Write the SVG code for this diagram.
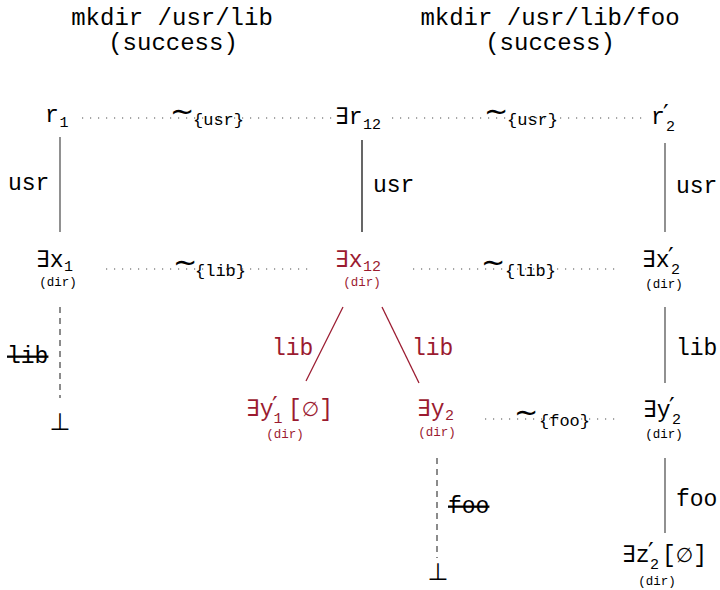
<svg xmlns="http://www.w3.org/2000/svg" width="720" height="590" viewBox="0 0 720 590">
<style>
text{font-family:"Liberation Mono","DejaVu Sans Mono",monospace;fill:#000}
.t{font-size:24px;text-anchor:middle}
.n{font-size:23px}
.sb{font-size:15px}
.pr{font-size:25px;font-family:"DejaVu Sans",sans-serif}
.d{font-size:12.5px;text-anchor:middle}
.lb{font-size:23px}
.sim{font-size:29px;font-family:"DejaVu Sans",sans-serif}
.set{font-size:17px}
.es{font-family:"DejaVu Sans",sans-serif;font-size:20px}
.bot{font-size:24px;font-family:"DejaVu Sans",sans-serif;text-anchor:middle}
.strike{text-decoration:line-through}
.red text,text.red{fill:#9b1b30}
.e{stroke:#555;stroke-width:1.3;fill:none}
.eb{stroke:#000;stroke-width:1.2;fill:none}
.er{stroke:#9b1b30;stroke-width:1.3;fill:none}
.dash{stroke:#666;stroke-width:1.5;stroke-dasharray:6 5;fill:none}
.dot{stroke:#888;stroke-width:1.3;stroke-dasharray:1.2 6.8;fill:none}
</style>
<g id="titles">
<text class="t" x="172" y="25">mkdir /usr/lib</text>
<text class="t" x="173" y="50">(success)</text>
<text class="t" x="550" y="25">mkdir /usr/lib/foo</text>
<text class="t" x="550" y="50">(success)</text>
</g>
<g id="connectors">
<line class="dot" x1="82" y1="118" x2="335" y2="118"/>
<text class="set" x="170" y="121"><tspan class="sim">∼</tspan><tspan x="193" y="125">{usr}</tspan></text>
<line class="dot" x1="392" y1="118" x2="642" y2="118"/>
<text class="set" x="484" y="121"><tspan class="sim">∼</tspan><tspan x="507" y="125">{usr}</tspan></text>
<line class="dot" x1="106" y1="269" x2="312" y2="269"/>
<text class="set" x="173" y="272"><tspan class="sim">∼</tspan><tspan x="195" y="276">{lib}</tspan></text>
<line class="dot" x1="413" y1="269" x2="617" y2="269"/>
<text class="set" x="481" y="272"><tspan class="sim">∼</tspan><tspan x="505" y="276">{lib}</tspan></text>
<line class="dot" x1="485" y1="419" x2="617" y2="419"/>
<text class="set" x="514" y="422"><tspan class="sim">∼</tspan><tspan x="539" y="426">{foo}</tspan></text>

<line class="e" x1="60" y1="137" x2="60" y2="232"/>
<text class="lb" x="8" y="190">usr</text>
<line class="eb" x1="362" y1="140" x2="362" y2="232"/>
<text class="lb" x="373" y="192">usr</text>
<line class="e" x1="665" y1="143" x2="665" y2="232"/>
<text class="lb" x="676" y="193">usr</text>

<line class="dash" x1="60" y1="307" x2="60" y2="398"/>
<text class="lb strike" x="7" y="363">lib</text>
<g class="red">
<line class="er" x1="343" y1="307" x2="306" y2="381"/>
<text class="lb" x="272" y="355">lib</text>
<line class="er" x1="382" y1="307" x2="419" y2="383"/>
<text class="lb" x="412" y="355">lib</text>
</g>
<line class="e" x1="665" y1="307" x2="665" y2="383"/>
<text class="lb" x="676" y="355">lib</text>

<line class="dash" x1="437" y1="458" x2="437" y2="558"/>
<text class="lb strike" x="448" y="513">foo</text>
<line class="e" x1="665" y1="458" x2="665" y2="533"/>
<text class="lb" x="676" y="506">foo</text>
</g>
<g id="r1"><text class="n" x="45" y="122">r<tspan class="sb" x="59.5" y="127">1</tspan></text></g>
<g id="r12"><text class="n" x="335" y="124">∃r<tspan class="sb" x="363" y="129">12</tspan></text></g>
<g id="r2p"><text class="n" x="651" y="124">r<tspan class="pr" x="663" y="122">′</tspan><tspan class="sb" x="666" y="131">2</tspan></text></g>
<g id="x1"><text class="n" x="36" y="267">∃x<tspan class="sb" x="64" y="271">1</tspan></text><text class="d" x="58" y="286">(dir)</text></g>
<g id="x12" class="red"><text class="n" x="335" y="267">∃x<tspan class="sb" x="363" y="271">12</tspan></text><text class="d" x="362" y="286">(dir)</text></g>
<g id="x2p"><text class="n" x="642" y="267">∃x<tspan class="pr" x="668" y="265">′</tspan><tspan class="sb" x="671" y="274">2</tspan></text><text class="d" x="664" y="288">(dir)</text></g>
<g id="y1p" class="red"><text class="n" x="246" y="416">∃y<tspan class="pr" x="272" y="414">′</tspan><tspan class="sb" x="273.5" y="423">1</tspan><tspan x="288" y="416">[</tspan><tspan class="es">∅</tspan>]</text><text class="d" x="285" y="438">(dir)</text></g>
<g id="y2" class="red"><text class="n" x="417" y="416">∃y<tspan class="sb" x="445" y="420">2</tspan></text><text class="d" x="437" y="436">(dir)</text></g>
<g id="y2p"><text class="n" x="643" y="417">∃y<tspan class="pr" x="669" y="415">′</tspan><tspan class="sb" x="672" y="424">2</tspan></text><text class="d" x="664" y="438">(dir)</text></g>
<g id="z2p"><text class="n" x="622" y="562">∃z<tspan class="pr" x="648" y="560">′</tspan><tspan class="sb" x="650" y="569">2</tspan><tspan x="662" y="562">[</tspan><tspan class="es">∅</tspan>]</text><text class="d" x="657" y="585">(dir)</text></g>
<g id="bot1"><text class="bot" x="60" y="430">⊥</text></g>
<g id="bot2"><text class="bot" x="438" y="580">⊥</text></g>
</svg>
